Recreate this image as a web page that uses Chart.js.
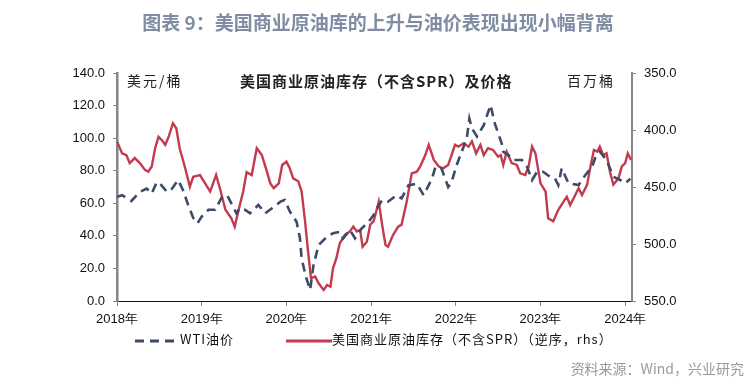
<!DOCTYPE html>
<html>
<head>
<meta charset="utf-8">
<script src="https://cdn.jsdelivr.net/npm/chart.js@4.4.0/dist/chart.umd.min.js"></script>
<style>
  body { margin: 0; background: #fff; }
  #wrap { position: relative; width: 756px; height: 388px; }
  #wrap canvas { position: absolute; left: 0; top: 0; }
  .txt { position: absolute; white-space: nowrap; pointer-events: none; }
  #title { left: 0; width: 756px; top: 8px; text-align: center; font: bold 19px "Noto Sans CJK SC", sans-serif; color: #7f8ca3; }
  .inner { top: 70px; font: 14px "Noto Sans CJK SC", serif; color: #222; }
  #legend { top: 327px; left: 134px; font: 13px "Noto Sans CJK SC", sans-serif; color: #111; letter-spacing: 1px; }
  #legend span { display: inline-block; vertical-align: middle; }
  #source { right: 12px; top: 358px; font: 14px "Noto Sans CJK SC", sans-serif; color: #9a9a9a; }
</style>
</head>
<body>
<div id="wrap">
  <canvas id="grafico" width="756" height="388"></canvas>
  <div id="title" class="txt">图表 9：美国商业原油库的上升与油价表现出现小幅背离</div>
  <div class="txt inner" style="left:127px; letter-spacing:2px;">美元/桶</div>
  <div class="txt inner" style="left:240px; font-weight:bold; font-size:15px; letter-spacing:1px;">美国商业原油库存（不含SPR）及价格</div>
  <div class="txt inner" style="left:567px; letter-spacing:2px;">百万桶</div>
  <div id="legend" class="txt">
    <span><svg width="46" height="6"><line x1="1" y1="3" x2="46" y2="3" stroke="#3d4b68" stroke-width="3" stroke-dasharray="9,6"/></svg></span><span>WTI油价</span>
    <span style="margin-left:48px;"><svg width="46" height="6"><line x1="0" y1="3" x2="46" y2="3" stroke="#c23b4e" stroke-width="3"/></svg></span><span>美国商业原油库存（不含SPR）（逆序，rhs）</span>
  </div>
  <div id="source" class="txt">资料来源：Wind，兴业研究</div>
</div>

<script>
// -------------------------------------
// Datos (fechas en años decimales)
// -------------------------------------
const yearTicks = [2018, 2019, 2020, 2021, 2022, 2023, 2024];

// WTI, USD/barril (eje izquierdo)
const wtiDates = [
  2018.00, 2018.06, 2018.17, 2018.27, 2018.35, 2018.41, 2018.47, 2018.51, 2018.59, 2018.65,
  2018.72, 2018.78, 2018.84, 2018.90, 2018.95, 2019.00, 2019.08, 2019.16, 2019.24, 2019.30,
  2019.35, 2019.41, 2019.45, 2019.51, 2019.57, 2019.67, 2019.75, 2019.83, 2019.93, 2019.98,
  2020.04, 2020.12, 2020.16, 2020.18, 2020.23, 2020.28, 2020.32, 2020.38, 2020.48, 2020.55,
  2020.63, 2020.67, 2020.75, 2020.81, 2020.89, 2020.97, 2021.03, 2021.06, 2021.13, 2021.20,
  2021.30, 2021.36, 2021.44, 2021.54, 2021.62, 2021.72, 2021.76, 2021.83, 2021.91, 2021.95,
  2022.01, 2022.07, 2022.13, 2022.16, 2022.19, 2022.25, 2022.33, 2022.41, 2022.46, 2022.54,
  2022.56, 2022.62, 2022.68, 2022.78, 2022.84, 2022.90, 2022.96, 2023.03, 2023.11, 2023.17,
  2023.21, 2023.25, 2023.33, 2023.45, 2023.53, 2023.61, 2023.65, 2023.70, 2023.78, 2023.86,
  2023.94, 2024.00, 2024.06
];
const wtiPrices = [
  64.0, 65.0, 61.4, 67.0, 69.0, 66.0, 73.0, 72.0, 67.0, 69.0,
  74.3, 68.0, 59.0, 51.0, 47.7, 51.8, 56.0, 56.0, 64.0, 65.0,
  60.0, 53.8, 57.0, 56.0, 53.8, 59.0, 53.8, 57.0, 61.0, 62.0,
  55.0, 48.7, 38.5, 26.0, 15.0, 6.8, 22.0, 34.4, 39.5, 41.6,
  42.5, 38.5, 43.6, 38.5, 44.6, 48.7, 52.8, 56.0, 62.0, 61.0,
  65.0, 63.0, 71.0, 72.0, 65.0, 75.3, 82.5, 81.5, 70.0, 73.0,
  83.5, 91.7, 100.0, 112.0, 106.0, 101.0, 108.0, 120.3, 109.0, 97.0,
  91.7, 89.6, 86.6, 86.6, 82.5, 74.3, 79.4, 79.4, 76.3, 75.3,
  71.2, 81.5, 72.3, 71.2, 77.4, 82.5, 88.6, 91.7, 86.6, 76.3,
  74.3, 72.3, 75.0
];

// Inventario comercial EE.UU. (sin SPR), millones de barriles (eje derecho, invertido)
const invDates = [
  2018.00, 2018.06, 2018.11, 2018.15, 2018.21, 2018.27, 2018.33, 2018.37, 2018.41, 2018.45,
  2018.49, 2018.53, 2018.57, 2018.61, 2018.66, 2018.70, 2018.74, 2018.80, 2018.86, 2018.90,
  2018.98, 2019.04, 2019.10, 2019.17, 2019.22, 2019.28, 2019.35, 2019.39, 2019.43, 2019.49,
  2019.53, 2019.59, 2019.65, 2019.71, 2019.77, 2019.81, 2019.85, 2019.91, 2019.95, 2020.00,
  2020.04, 2020.08, 2020.14, 2020.18, 2020.22, 2020.26, 2020.29, 2020.34, 2020.38, 2020.44,
  2020.48, 2020.52, 2020.55, 2020.59, 2020.63, 2020.69, 2020.75, 2020.79, 2020.83, 2020.87,
  2020.90, 2020.95, 2020.99, 2021.03, 2021.09, 2021.13, 2021.17, 2021.20, 2021.26, 2021.32,
  2021.36, 2021.42, 2021.48, 2021.54, 2021.58, 2021.64, 2021.68, 2021.74, 2021.80, 2021.85,
  2021.91, 2021.95, 2021.99, 2022.03, 2022.09, 2022.15, 2022.19, 2022.24, 2022.29, 2022.33,
  2022.38, 2022.44, 2022.50, 2022.53, 2022.56, 2022.60, 2022.66, 2022.72, 2022.76, 2022.82,
  2022.86, 2022.90, 2022.94, 2023.00, 2023.06, 2023.09, 2023.15, 2023.21, 2023.27, 2023.31,
  2023.35, 2023.41, 2023.45, 2023.49, 2023.55, 2023.59, 2023.63, 2023.67, 2023.70, 2023.74,
  2023.78, 2023.82, 2023.86, 2023.92, 2023.96, 2024.00, 2024.03, 2024.07
];
const invStocks = [
  410.0, 420.5, 422.0, 429.0, 424.6, 429.0, 435.0, 436.6, 432.0, 416.0,
  406.0, 409.0, 413.0, 406.0, 394.0, 398.5, 416.0, 432.0, 449.7, 441.0,
  439.5, 446.8, 454.0, 439.5, 452.6, 470.0, 477.5, 484.8, 471.7, 454.0,
  437.0, 439.5, 416.0, 422.0, 436.6, 446.8, 451.0, 446.8, 430.7, 427.8,
  433.6, 442.4, 445.0, 454.0, 480.0, 509.6, 530.0, 528.6, 534.5, 540.4,
  536.0, 537.5, 521.3, 512.5, 499.4, 492.0, 489.0, 484.8, 489.0, 487.7,
  502.4, 498.0, 483.0, 480.0, 463.0, 483.0, 501.0, 502.4, 492.0, 484.8,
  483.0, 463.0, 438.0, 436.6, 432.0, 422.0, 413.0, 426.3, 432.0, 433.6,
  430.7, 422.0, 413.0, 414.6, 411.7, 414.6, 410.0, 420.5, 413.0, 422.0,
  416.0, 417.5, 423.4, 422.0, 430.7, 419.0, 429.0, 430.7, 438.0, 439.5,
  432.0, 414.6, 420.5, 446.8, 454.0, 477.5, 480.0, 470.0, 463.0, 458.5,
  465.8, 457.0, 451.0, 457.0, 448.0, 432.0, 417.5, 419.0, 414.6, 422.0,
  420.5, 436.6, 448.0, 442.4, 432.0, 429.0, 420.5, 426.3
];

const toPoints = (xs, ys) => xs.map((x, i) => ({ x: x, y: ys[i] }));

// -------------------------------------
// Área del gráfico fija
// -------------------------------------
const AREA_LEFT = 117, AREA_RIGHT = 632, AREA_TOP = 73, AREA_BOTTOM = 301;
const tickFont = { family: "'Liberation Sans', Arial, sans-serif", size: 13 };

new Chart(document.getElementById("grafico"), {
  type: "line",
  data: {
    datasets: [
      {
        label: "WTI油价",
        data: toPoints(wtiDates, wtiPrices),
        yAxisID: "y",
        borderColor: "#3d4b68",
        borderWidth: 2.6,
        borderDash: [9, 6],
        pointRadius: 0,
        tension: 0
      },
      {
        label: "美国商业原油库存（不含SPR）（逆序，rhs）",
        data: toPoints(invDates, invStocks),
        yAxisID: "y2",
        borderColor: "#c23b4e",
        borderWidth: 2.4,
        pointRadius: 0,
        tension: 0
      }
    ]
  },
  options: {
    responsive: false,
    animation: false,
    layout: { padding: { top: AREA_TOP, left: 0, right: 0, bottom: 0 } },
    plugins: { legend: { display: false }, tooltip: { enabled: false } },
    scales: {
      x: {
        type: "linear",
        min: 2018,
        max: 2024.08,
        afterBuildTicks: s => { s.ticks = yearTicks.map(v => ({ value: v })); },
        afterFit: s => { s.height = 388 - AREA_BOTTOM; },
        ticks: {
          autoSkip: false,
          maxRotation: 0,
          padding: 6,
          color: "#111",
          font: tickFont,
          callback: v => v + "年"
        },
        grid: { drawOnChartArea: false, drawTicks: true, tickLength: 5, color: "#888" },
        border: { color: "#111", width: 1 }
      },
      y: {
        position: "left",
        min: 0,
        max: 140,
        afterFit: s => { s.width = AREA_LEFT; },
        ticks: { stepSize: 20, padding: 8, color: "#111", font: tickFont, callback: v => v.toFixed(1) },
        grid: { drawOnChartArea: false, drawTicks: true, tickLength: 4, color: "#888" },
        border: { color: "#858585", width: 2.5 }
      },
      y2: {
        position: "right",
        reverse: true,
        min: 350,
        max: 550,
        afterFit: s => { s.width = 756 - AREA_RIGHT; },
        ticks: { stepSize: 50, padding: 8, color: "#111", font: tickFont, callback: v => v.toFixed(1) },
        grid: { drawOnChartArea: false, drawTicks: true, tickLength: 4, color: "#888" },
        border: { color: "#858585", width: 2 }
      }
    }
  }
});
</script>
</body>
</html>
